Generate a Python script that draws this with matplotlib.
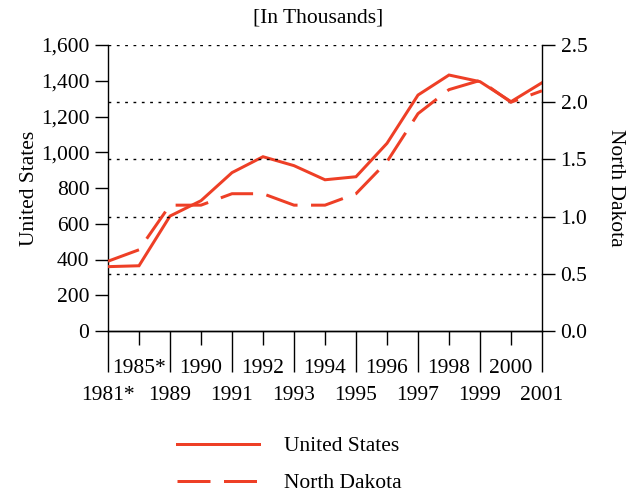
import matplotlib.pyplot as plt
from matplotlib.ticker import FixedLocator, FuncFormatter

plt.rcParams['font.family'] = 'Liberation Serif'
plt.rcParams['font.size'] = 15.5

# data
years = ['1981*', '1985*', '1989', '1990', '1991', '1992', '1993', '1994',
         '1995', '1996', '1997', '1998', '1999', '2000', '2001']
us_vals = [360, 365, 643, 729, 886, 975, 925, 846, 863, 1050, 1320, 1432, 1395, 1283, 1389]
nd_vals = [0.61, 0.71, 1.10, 1.10, 1.20, 1.20, 1.10, 1.10, 1.20, 1.48, 1.90, 2.11, 2.19, 2.00, 2.10]
us_ticks = [0, 200, 400, 600, 800, 1000, 1200, 1400, 1600]
nd_ticks = [0.0, 0.5, 1.0, 1.5, 2.0, 2.5]

red = '#EE3F26'
pt = 72 / 100  # pixels -> points

fig = plt.figure(figsize=(6.32, 4.93), dpi=100)
ax = fig.add_axes([108 / 632, 162 / 493, 434 / 632, 286 / 493])
ax2 = ax.twinx()

x = list(range(len(years)))
l1, = ax.plot(x, us_vals, color=red, lw=3 * pt, solid_joinstyle='miter', zorder=3)
l2, = ax2.plot(x, nd_vals, color=red, lw=3 * pt, zorder=3)
l2.set_dashes([11, 4.5])

ax.set_xlim(0, len(years) - 1)
ax.set_ylim(0, 1600)
ax2.set_ylim(0, 2.5)

# dotted grid at the right-axis ticks
for v in nd_ticks[1:]:
    ax2.axhline(v, color='black', lw=1, ls=(0, (2, 4)), zorder=1)

# y axes
ax.set_yticks(us_ticks)
ax.yaxis.set_major_formatter(FuncFormatter(lambda v, p: f'{int(v):,}'))
ax.tick_params(axis='y', direction='out', length=13 * pt, width=1, pad=4)
ax2.set_yticks(nd_ticks)
ax2.yaxis.set_major_formatter(FuncFormatter(lambda v, p: f'{v:.1f}'))
ax2.tick_params(axis='y', direction='out', length=13 * pt, width=1, pad=4)

# x axis: even years on bottom row with long ticks, odd on top row with short ticks
ax.xaxis.set_major_locator(FixedLocator(x[0::2]))
ax.xaxis.set_minor_locator(FixedLocator(x[1::2]))
ax.set_xticklabels(years[0::2])
ax.set_xticklabels(years[1::2], minor=True)
ax.tick_params(axis='x', which='major', direction='out', length=41 * pt, width=1, pad=10)
ax.tick_params(axis='x', which='minor', direction='out', length=14 * pt, width=1, pad=10)
ax2.tick_params(axis='x', which='both', length=0)

for a in (ax, ax2):
    a.spines['top'].set_visible(False)
    for s in a.spines.values():
        s.set_linewidth(1)
ax2.spines['left'].set_visible(False)
ax.spines['right'].set_visible(False)

ax.set_ylabel('United States', labelpad=1.5)
ax2.set_ylabel('North Dakota', rotation=-90, labelpad=27)

fig.text(318 / 632, 1 - 18 / 493, '[In Thousands]', ha='center', va='center')

fig.legend([l1, l2], ['United States', 'North Dakota'], loc='upper left',
           bbox_to_anchor=(158 / 632, 1 - 417 / 493), frameon=False,
           handlelength=3.8, handletextpad=1.15, labelspacing=0.78)

fig.savefig('out.png', dpi=100)
